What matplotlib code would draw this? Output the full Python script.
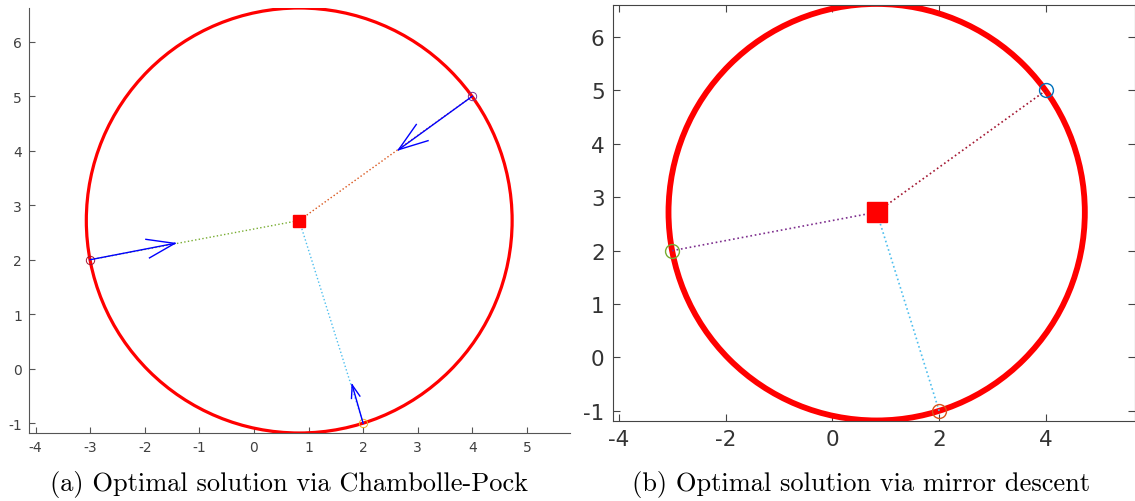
import numpy as np
import matplotlib
matplotlib.use("Agg")
import matplotlib.pyplot as plt
from matplotlib.patches import Circle

plt.rcParams["axes.unicode_minus"] = False

# data
pts_x = [-3, 4, 2]
pts_y = [2, 5, -1]
center = (0.83, 2.72)
radius = 3.9

# arrow tips (Chambolle-Pock panel)
tip_x = [-1.45, 2.65, 1.8]
tip_y = [2.3, 4.02, -0.3]

# colours (MATLAB default order)
left_line_cols = ["#77AC30", "#D95319", "#4DBEEE"]
left_mark_cols = ["#A2142F", "#7E2F8E", "#EDB120"]
right_line_cols = ["#7E2F8E", "#A2142F", "#4DBEEE"]
right_mark_cols = ["#77AC30", "#0072BD", "#D95319"]

fig = plt.figure(figsize=(11.35, 5.02), dpi=100)

# ---- (a) ----
ax1 = fig.add_axes([29 / 1135, 68 / 502, 541 / 1135, 425 / 502])
ax1.add_patch(Circle(center, radius, fill=False, ec="red", lw=2.3, zorder=2))
for i in range(3):
    ax1.plot([pts_x[i], center[0]], [pts_y[i], center[1]], ls=":", color=left_line_cols[i], lw=1.0)
    ax1.plot(pts_x[i], pts_y[i], "o", mfc="none", mec=left_mark_cols[i], ms=6, mew=0.7)
    dx = tip_x[i] - pts_x[i]
    dy = tip_y[i] - pts_y[i]
    L = np.hypot(dx, dy)
    ux, uy = dx / L, dy / L
    h = 0.32 * L
    w = 0.11 * L
    ax1.plot([pts_x[i], tip_x[i]], [pts_y[i], tip_y[i]], color="blue", lw=1.0)
    for s in (1, -1):
        ax1.plot([tip_x[i], tip_x[i] - h * ux - s * w * uy],
                 [tip_y[i], tip_y[i] - h * uy + s * w * ux], color="blue", lw=1.0)
ax1.plot(*center, "s", color="red", ms=9)
ax1.set_xlim(-4.12, 5.79)
ax1.set_ylim(-1.18, 6.62)
ax1.set_xticks(range(-4, 6))
ax1.set_yticks(range(-1, 7))
for sp in ("top", "right"):
    ax1.spines[sp].set_visible(False)
for sp in ("left", "bottom"):
    ax1.spines[sp].set_color("#555555")
    ax1.spines[sp].set_linewidth(0.8)
ax1.tick_params(direction="in", length=4, labelsize=10, colors="#555555", labelcolor="#404040", pad=5)

# ---- (b) ----
ax2 = fig.add_axes([613 / 1135, 80 / 502, 522 / 1135, 416 / 502])
ax2.add_patch(Circle(center, radius, fill=False, ec="red", lw=4.2, zorder=2))
for i in range(3):
    ax2.plot([pts_x[i], center[0]], [pts_y[i], center[1]], ls=":", color=right_line_cols[i], lw=1.2)
    ax2.plot(pts_x[i], pts_y[i], "o", mfc="none", mec=right_mark_cols[i], ms=10, mew=1.0, zorder=3)
ax2.plot(*center, "s", color="red", ms=14)
ax2.set_xlim(-4.11, 5.67)
ax2.set_ylim(-1.19, 6.6)
ax2.set_xticks(range(-4, 6, 2))
ax2.set_yticks(range(-1, 7))
for sp in ax2.spines.values():
    sp.set_color("#444444")
    sp.set_linewidth(0.8)
ax2.tick_params(direction="in", length=5, labelsize=15.5, colors="#444444", labelcolor="#333333",
                top=True, right=True, pad=6)

cap_font = dict(family="cmr10", fontsize=19)
fig.text(289 / 1135, 1 - 485 / 502, "(a) Optimal solution via Chambolle-Pock", ha="center", va="center", **cap_font)
fig.text(861 / 1135, 1 - 485 / 502, "(b) Optimal solution via mirror descent", ha="center", va="center", **cap_font)

fig.savefig("out.png", dpi=100)
